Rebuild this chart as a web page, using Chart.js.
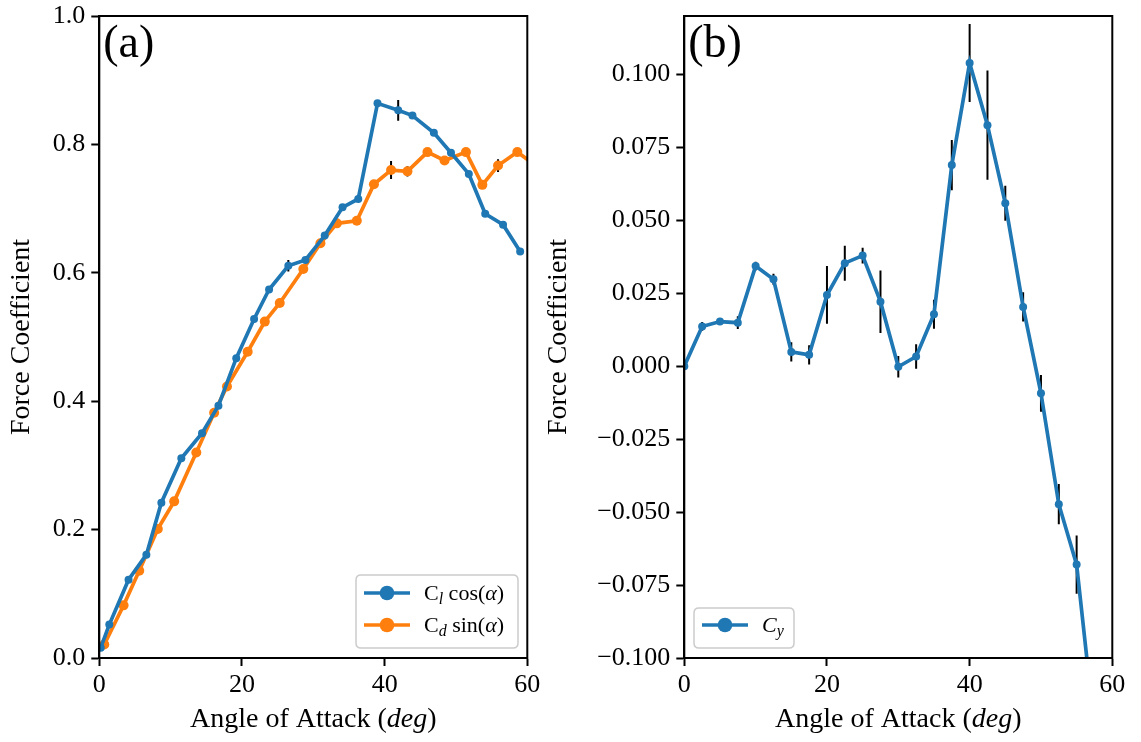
<!DOCTYPE html>
<html>
<head>
<meta charset="utf-8">
<script src="https://cdn.jsdelivr.net/npm/chart.js@4.4.1/dist/chart.umd.min.js"></script>
<style>
  html, body { margin: 0; padding: 0; background: #fff; }
  #wrap { position: relative; width: 1141px; height: 742px; overflow: hidden; }
  .panel { position: absolute; top: 0; height: 742px; }
  #pa { left: 0; width: 560px; }
  #pb { left: 530px; width: 611px; }
</style>
</head>
<body>
<div id="wrap">
  <div class="panel" id="pa"><canvas id="ca"></canvas></div>
  <div class="panel" id="pb"><canvas id="cb"></canvas></div>
</div>
<script>
// (a) lift and drag projections against angle of attack
const clAlpha = [0.2, 1.4, 4.1, 6.6, 8.7, 11.5, 14.4, 16.7, 19.2, 21.7, 23.8, 26.5, 28.9,
                 31.6, 34.1, 36.3, 39.0, 41.9, 43.9, 46.9, 49.3, 51.8, 54.1, 56.6, 59.0];
const clCos   = [0.016, 0.052, 0.122, 0.161, 0.242, 0.311, 0.350, 0.393, 0.467, 0.528, 0.574, 0.611, 0.620,
                 0.658, 0.702, 0.715, 0.864, 0.853, 0.845, 0.818, 0.787, 0.754, 0.692, 0.675, 0.633];
const clErr   = [0.002, 0.002, 0.002, 0.002, 0.002, 0.002, 0.002, 0.002, 0.002, 0.002, 0.002, 0.009, 0.002,
                 0.002, 0.002, 0.002, 0.002, 0.016, 0.002, 0.002, 0.002, 0.002, 0.002, 0.002, 0.002];

const cdAlpha = [0.7, 3.4, 5.6, 8.2, 10.5, 13.6, 16.1, 17.9, 20.8, 23.2, 25.3, 28.6, 31.0,
                 33.3, 36.1, 38.5, 40.9, 43.2, 46.0, 48.4, 51.4, 53.7, 55.9, 58.6, 61.2];
const cdSin   = [0.021, 0.082, 0.136, 0.201, 0.244, 0.320, 0.382, 0.423, 0.477, 0.524, 0.553, 0.606, 0.646,
                 0.677, 0.681, 0.738, 0.760, 0.758, 0.788, 0.775, 0.788, 0.737, 0.767, 0.788, 0.767];
const cdErr   = [0.002, 0.002, 0.002, 0.002, 0.002, 0.002, 0.002, 0.002, 0.002, 0.002, 0.002, 0.002, 0.002,
                 0.002, 0.002, 0.002, 0.014, 0.008, 0.002, 0.002, 0.002, 0.002, 0.010, 0.005, 0.002];

// (b) side force coefficient
const cyAlpha = [0, 2.5, 5, 7.5, 10, 12.5, 15, 17.5, 20, 22.5, 25, 27.5,
                 30, 32.5, 35, 37.5, 40, 42.5, 45, 47.5, 50, 52.5, 55, 57.5];
const cyVal   = [0.0000, 0.0136, 0.0153, 0.0149, 0.0343, 0.0298, 0.0049, 0.0039, 0.0244, 0.0353, 0.0379, 0.0221,
                 -0.0002, 0.0033, 0.0178, 0.0689, 0.1039, 0.0826, 0.0558, 0.0203, -0.0093, -0.0473, -0.0680, -0.1240];
const cyErr   = [0.0005, 0.0015, 0.0010, 0.0022, 0.0015, 0.0019, 0.0033, 0.0033, 0.0099, 0.0060, 0.0027, 0.0107,
                 0.0037, 0.0042, 0.0050, 0.0086, 0.0134, 0.0187, 0.0060, 0.0050, 0.0063, 0.0069, 0.0100, 0.0100];

// tick positions
const xTicks  = [0, 20, 40, 60];
const yTicksA = [0.0, 0.2, 0.4, 0.6, 0.8, 1.0];
const yTicksB = [-0.100, -0.075, -0.050, -0.025, 0.000, 0.025, 0.050, 0.075, 0.100];

const BLUE = '#1f77b4';
const ORANGE = '#ff7f0e';
const SERIF = "'Liberation Serif', 'Times New Roman', serif";
const TICK_SIZE = 26;
const TITLE_SIZE = 28;

const pts = (xs, ys) => xs.map((x, i) => ({ x, y: ys[i] }));

// draws a run of text pieces with their own style, left-aligned or centred
function richText(ctx, x, y, parts, align) {
  let total = 0;
  parts.forEach(p => {
    ctx.font = (p.italic ? 'italic ' : '') + p.size + 'px ' + SERIF;
    p.w = ctx.measureText(p.t).width;
    total += p.w;
  });
  let cx = align === 'center' ? x - total / 2 : x;
  ctx.textAlign = 'left';
  ctx.textBaseline = 'alphabetic';
  parts.forEach(p => {
    ctx.font = (p.italic ? 'italic ' : '') + p.size + 'px ' + SERIF;
    ctx.fillText(p.t, cx, y + (p.dy || 0));
    cx += p.w;
  });
}

function roundRect(ctx, x, y, w, h, r) {
  ctx.beginPath();
  ctx.moveTo(x + r, y);
  ctx.lineTo(x + w - r, y);
  ctx.quadraticCurveTo(x + w, y, x + w, y + r);
  ctx.lineTo(x + w, y + h - r);
  ctx.quadraticCurveTo(x + w, y + h, x + w - r, y + h);
  ctx.lineTo(x + r, y + h);
  ctx.quadraticCurveTo(x, y + h, x, y + h - r);
  ctx.lineTo(x, y + r);
  ctx.quadraticCurveTo(x, y, x + r, y);
  ctx.closePath();
}

// error bars (under the lines), axes frame, legend, panel tag and x title
const decorations = {
  id: 'decorations',
  beforeDatasetsDraw(chart) {
    const { ctx, chartArea: a, scales } = chart;
    ctx.save();
    ctx.beginPath();
    ctx.rect(a.left, a.top, a.right - a.left, a.bottom - a.top);
    ctx.clip();
    ctx.strokeStyle = '#000';
    ctx.lineWidth = 2;
    chart.data.datasets.forEach(ds => {
      if (!ds.errors) return;
      ds.data.forEach((p, i) => {
        const e = ds.errors[i];
        if (!e) return;
        const px = scales.x.getPixelForValue(p.x);
        ctx.beginPath();
        ctx.moveTo(px, scales.y.getPixelForValue(p.y - e));
        ctx.lineTo(px, scales.y.getPixelForValue(p.y + e));
        ctx.stroke();
      });
    });
    ctx.restore();
  },
  afterDraw(chart, args, opts) {
    const { ctx, chartArea: a } = chart;
    ctx.save();
    // frame
    ctx.strokeStyle = '#000';
    ctx.lineWidth = 2;
    ctx.strokeRect(a.left, a.top, a.right - a.left, a.bottom - a.top);

    // panel tag
    ctx.fillStyle = '#000';
    ctx.font = '46px ' + SERIF;
    ctx.textAlign = 'left';
    ctx.textBaseline = 'alphabetic';
    ctx.fillText(opts.tag, a.left + 4, a.top + 41);

    // x-axis title
    ctx.fillStyle = '#000';
    richText(ctx, (a.left + a.right) / 2, 727, [
      { t: 'Angle of Attack (', size: TITLE_SIZE },
      { t: 'deg', size: TITLE_SIZE, italic: true },
      { t: ')', size: TITLE_SIZE }
    ], 'center');

    // legend
    const lg = opts.legend;
    ctx.fillStyle = 'rgba(255,255,255,0.85)';
    ctx.strokeStyle = '#cccccc';
    ctx.lineWidth = 1.5;
    roundRect(ctx, lg.x, lg.y, lg.w, lg.h, 5);
    ctx.fill();
    ctx.stroke();
    lg.rows.forEach((row, i) => {
      const ds = chart.data.datasets[i];
      const cy = lg.y + lg.firstRow + i * lg.rowGap;
      const x0 = lg.x + 8, x1 = lg.x + 54;
      ctx.strokeStyle = ds.borderColor;
      ctx.lineWidth = 3.7;
      ctx.beginPath();
      ctx.moveTo(x0, cy);
      ctx.lineTo(x1, cy);
      ctx.stroke();
      ctx.fillStyle = ds.borderColor;
      ctx.beginPath();
      ctx.arc((x0 + x1) / 2, cy, 7.3, 0, Math.PI * 2);
      ctx.fill();
      ctx.fillStyle = '#000';
      richText(ctx, lg.x + 68, cy + 7, row, 'left');
    });
    ctx.restore();
  }
};

function axisX() {
  return {
    type: 'linear',
    min: 0, max: 60,
    afterBuildTicks: s => { s.ticks = xTicks.map(v => ({ value: v })); },
    afterFit: s => { s.height = 84; },
    ticks: { color: '#000', font: { family: SERIF, size: TICK_SIZE }, padding: 4, maxRotation: 0,
             callback: v => String(v) },
    grid: { display: true, drawOnChartArea: false, drawTicks: true, tickLength: 8, tickWidth: 2,
            color: '#000', tickColor: '#000' },
    border: { display: true, color: '#000', width: 2 }
  };
}

function axisY(min, max, ticks, fmt, width, titlePad) {
  return {
    type: 'linear',
    min, max,
    afterBuildTicks: s => { s.ticks = ticks.map(v => ({ value: v })); },
    afterFit: s => { s.width = width; s.paddingTop = 0; s.paddingBottom = 0; },
    ticks: { color: '#000', font: { family: SERIF, size: TICK_SIZE, lineHeight: 1 }, padding: 6, callback: fmt },
    grid: { display: true, drawOnChartArea: false, drawTicks: true, tickLength: 8, tickWidth: 2,
            color: '#000', tickColor: '#000' },
    border: { display: true, color: '#000', width: 2 },
    title: { display: true, text: 'Force Coefficient', color: '#000',
             font: { family: SERIF, size: TITLE_SIZE }, padding: { top: titlePad, bottom: 0 } }
  };
}

const lineStyle = (color, r) => ({
  borderColor: color, backgroundColor: color,
  pointBackgroundColor: color, pointBorderColor: color,
  borderWidth: 3.7, pointRadius: r, pointBorderWidth: 0, pointHoverRadius: r,
  tension: 0, fill: false, clip: 0
});

Chart.defaults.animation = false;

new Chart(document.getElementById('ca'), {
  type: 'line',
  data: {
    datasets: [
      Object.assign({ label: 'Cl cos(α)', data: pts(clAlpha, clCos), errors: clErr }, lineStyle(BLUE, 4)),
      Object.assign({ label: 'Cd sin(α)', data: pts(cdAlpha, cdSin), errors: cdErr }, lineStyle(ORANGE, 5))
    ]
  },
  options: {
    responsive: true, maintainAspectRatio: false, animation: false,
    layout: { padding: { top: 16, right: 32.7, left: 0, bottom: 0 } },
    scales: {
      x: axisX(),
      y: axisY(0, 1, yTicksA, v => v.toFixed(1), 99.3, 5.2)
    },
    plugins: {
      legend: { display: false },
      tooltip: { enabled: false },
      decorations: {
        tag: '(a)',
        legend: {
          x: 356, y: 575, w: 162, h: 73, firstRow: 18, rowGap: 32,
          rows: [
            [{ t: 'C', size: 22 }, { t: 'l', size: 16, italic: true, dy: 4 }, { t: ' cos(', size: 22 },
             { t: 'α', size: 22, italic: true }, { t: ')', size: 22 }],
            [{ t: 'C', size: 22 }, { t: 'd', size: 16, italic: true, dy: 4 }, { t: ' sin(', size: 22 },
             { t: 'α', size: 22, italic: true }, { t: ')', size: 22 }]
          ]
        }
      }
    }
  },
  plugins: [decorations]
});

const minus = v => (v < 0 ? '\u2212' + Math.abs(v).toFixed(3) : v.toFixed(3));

new Chart(document.getElementById('cb'), {
  type: 'line',
  data: {
    datasets: [
      Object.assign({ label: 'Cy', data: pts(cyAlpha, cyVal), errors: cyErr }, lineStyle(BLUE, 4))
    ]
  },
  options: {
    responsive: true, maintainAspectRatio: false, animation: false,
    layout: { padding: { top: 16, right: 28.7, left: 0, bottom: 0 } },
    scales: {
      x: axisX(),
      y: axisY(-0.1, 0.12, yTicksB, minus, 154.3, 12.2)
    },
    plugins: {
      legend: { display: false },
      tooltip: { enabled: false },
      decorations: {
        tag: '(b)',
        legend: {
          x: 694 - 530, y: 608, w: 100, h: 40, firstRow: 17, rowGap: 32,
          rows: [
            [{ t: 'C', size: 22, italic: true }, { t: 'y', size: 16, italic: true, dy: 4 }]
          ]
        }
      }
    }
  },
  plugins: [decorations]
});
</script>
</body>
</html>
